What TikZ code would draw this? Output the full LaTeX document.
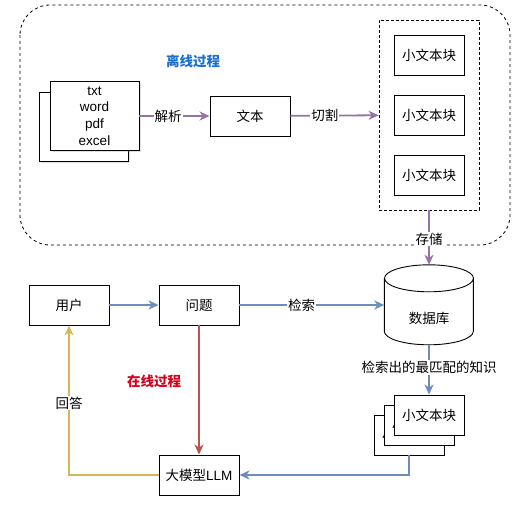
\documentclass[tikz,border=0pt]{standalone}
\usepackage{fontspec}
\setmainfont{Liberation Sans}
\newfontfamily\cjk{Noto Sans CJK SC}
\usetikzlibrary{arrows.meta}
\usetikzlibrary{shadows}

\definecolor{linePurple}{HTML}{9673A6}
\definecolor{lineBlue}{HTML}{6C8EBF}
\definecolor{lineRed}{HTML}{B85450}
\definecolor{lineYellow}{HTML}{D6B656}
\definecolor{titleBlue}{HTML}{1B6FD1}
\definecolor{titleRed}{HTML}{D5001C}

\tikzset{
  box/.style={draw, fill=white, line width=0.9pt, minimum width=80pt, minimum height=40pt, inner sep=0pt, font=\cjk},
  chunk/.style={box, minimum width=70pt},
  docbox/.style={box, minimum width=89pt, minimum height=69pt, font=\rmfamily, align=center,
    drop shadow={opacity=0.25, shadow xshift=2pt, shadow yshift=-2pt}},
  flow/.style={line width=1.8pt, -{Stealth[length=10pt,width=9pt,inset=3pt]}},
  lbl/.style={fill=white, text=black, inner sep=1pt, font=\cjk},
  heading/.style={font=\cjk\bfseries}
}

\begin{document}
\fontsize{13.5}{16.7}\selectfont
\begin{tikzpicture} [x=1pt, y=-1pt]
\useasboundingbox (0,0) rectangle (530,505);

\draw[dash pattern=on 3pt off 3pt, line width=0.8pt, rounded corners=30pt] (20,5) rectangle (510,245);
\node[heading, text=titleBlue] (offline) at (193,61) {离线过程};

\node[docbox] (docback) at (83.5,127) {};
\node[docbox] (docs) at (94.5,116) {txt\\word\\pdf\\excel};
\node[box] (plain) at (250,116) {文本};

\node[draw, dash pattern=on 3pt off 2pt, line width=0.8pt, minimum width=100pt, minimum height=190pt] (chunks) at (429,115) {};
\foreach \i/\y in {1/55, 2/115, 3/175}
\node[chunk] (c\i) at (429,\y) {小文本块};

\draw[flow, linePurple] (docs) -- node[lbl, pos=0.41] {解析} (plain);
\draw[flow, linePurple] (plain) -- node[lbl, pos=0.39] {切割} (chunks);

\node[minimum width=89pt, minimum height=80pt, inner sep=0pt] (db) at (429,305) {};
\draw[line width=0.9pt] (db.north) ++(0,13.5) ellipse [x radius=44.5pt, y radius=13.5pt];
\draw[line width=0.9pt] (db.north west) ++(0,13.5) --++(0,53)
  arc [start angle=180, end angle=360, x radius=44.5pt, y radius=13.5pt] --++(0,-53);
\node[font=\cjk] (dblabel) at (429,318) {数据库};

\draw[flow, linePurple] (chunks) -- node[lbl, pos=0.53] {存储} (db.north);

\node[box] (user) at (69,305) {用户};
\node[box] (ask) at (199,305) {问题};
\node[box, font=\rmfamily] (llm) at (199,475) {{\cjk 大模型}LLM};
\node[heading, text=titleRed] (online) at (154,381) {在线过程};

\foreach \i/\x/\y in {3/409/435, 2/419/425, 1/429/415}
\node[chunk] (k\i) at (\x,\y) {小文本块};

\draw[flow, lineBlue] (user) -- (ask);
\draw[flow, lineBlue] (ask) -- node[lbl, pos=0.43] {检索} (db.west);
\draw[flow, lineRed] (ask) -- (llm);
\draw[flow, lineBlue] (db.south) -- node[lbl, pos=0.45] {检索出的最匹配的知识} (k1);
\draw[flow, lineBlue] (k3.south) |- (llm);
\draw[flow, lineYellow] (llm) -| node[lbl, pos=0.74] {回答} (user);

\end{tikzpicture}
\end{document}
